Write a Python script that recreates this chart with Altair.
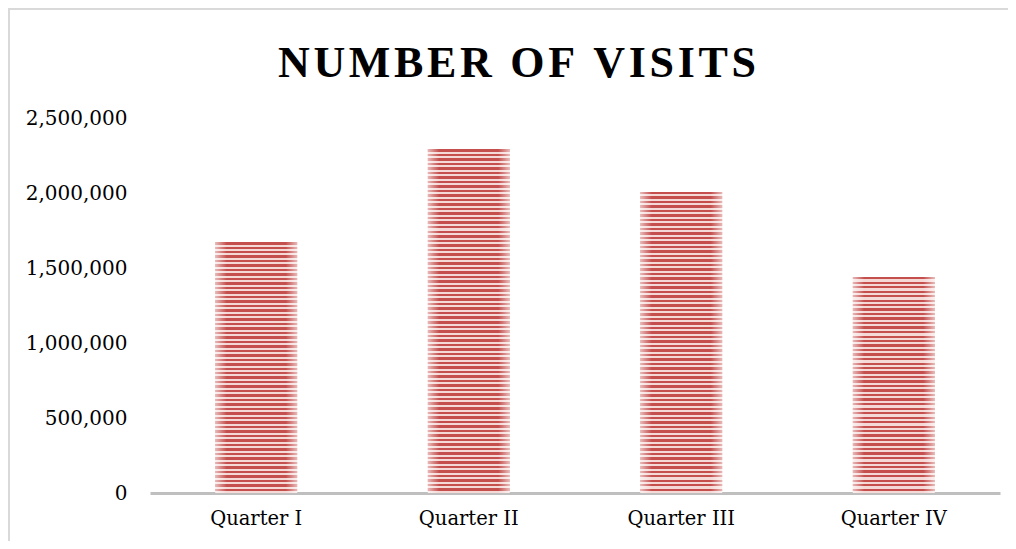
import altair as alt
import pandas as pd

# ---- data ----
quarters = ["Quarter I", "Quarter II", "Quarter III", "Quarter IV"]
visits = [1673000, 2293000, 2007000, 1440000]
y_ticks = [0, 500000, 1000000, 1500000, 2000000, 2500000]
title_text = "NUMBER OF VISITS"

# ---- layout / style ----
W, H = 850, 375
YMAX = 2500000
PERIOD = 4.5          # stripe period in px
DARK = "#c44f4d"
LIGHT = "#f5d9d7"

df = pd.DataFrame({"quarter": quarters, "visits": visits})

x_enc = alt.X(
    "quarter:N", sort=quarters, title=None,
    scale=alt.Scale(paddingInner=0.615, paddingOuter=0.3075),
    axis=alt.Axis(labelAngle=0, ticks=False, domainColor="#bfbfbf", domainWidth=3,
                  labelPadding=16, labelFont="DejaVu Serif", labelFontSize=19.5,
                  labelColor="#000000"),
)
y_enc = alt.Y(
    "visits:Q", title=None, scale=alt.Scale(domain=[0, YMAX]),
    axis=alt.Axis(values=y_ticks, format=",.0f", grid=False, domain=False, ticks=False,
                  labelPadding=23, labelFont="DejaVu Serif", labelFontSize=20,
                  labelColor="#000000"),
)


def stripe_gradient(value):
    hpx = value / YMAX * H
    n = max(1, int(round(hpx / PERIOD)))
    stops = []
    for k in range(n):
        a = k / n
        b = (k + 0.55) / n
        c = (k + 1) / n
        stops += [
            alt.GradientStop(offset=a, color=DARK),
            alt.GradientStop(offset=b, color=DARK),
            alt.GradientStop(offset=b, color=LIGHT),
            alt.GradientStop(offset=c, color=LIGHT),
        ]
    return alt.Gradient(gradient="linear", x1=0, y1=0, x2=0, y2=1, stops=stops)


base = alt.Chart(df)
one = alt.Data(values=[{"a": 1}])
layers = []

# border decoration around the whole chart
border = alt.Chart(one).mark_rect(
    fill="transparent", stroke="#d9d9d9", strokeWidth=2
).encode(
    x=alt.value(-141), x2=alt.value(W + 100),
    y=alt.value(-109), y2=alt.value(H + 100),
)
layers.append(border)

for q, v in zip(quarters, visits):
    layers.append(
        base.transform_filter(alt.datum.quarter == q)
        .mark_bar(color=stripe_gradient(v))
        .encode(x=x_enc, y=y_enc)
    )

edge = alt.Gradient(
    gradient="linear", x1=0, y1=0, x2=1, y2=0,
    stops=[
        alt.GradientStop(offset=0, color="rgba(255,255,255,0.6)"),
        alt.GradientStop(offset=0.14, color="rgba(255,255,255,0)"),
        alt.GradientStop(offset=0.86, color="rgba(255,255,255,0)"),
        alt.GradientStop(offset=1, color="rgba(255,255,255,0.6)"),
    ],
)
layers.append(base.mark_bar(color=edge).encode(x=x_enc, y=y_enc))

spaced_title = "\u200a".join(list(title_text))
title = alt.Chart(one).mark_text(
    text=spaced_title, font="Liberation Serif", fontSize=44, fontWeight="bold",
    color="#000000", align="center", baseline="alphabetic",
).encode(x=alt.value(367), y=alt.value(-41))
layers.append(title)

chart = alt.layer(*layers).properties(
    width=W, height=H,
    background="white",
    autosize=alt.AutoSizeParams(type="none"),
    padding={"left": 142, "top": 110, "right": 8, "bottom": 48},
).configure_view(stroke="transparent", strokeWidth=0)

chart.save("out.html", embed_options={"renderer": "svg", "actions": False})
